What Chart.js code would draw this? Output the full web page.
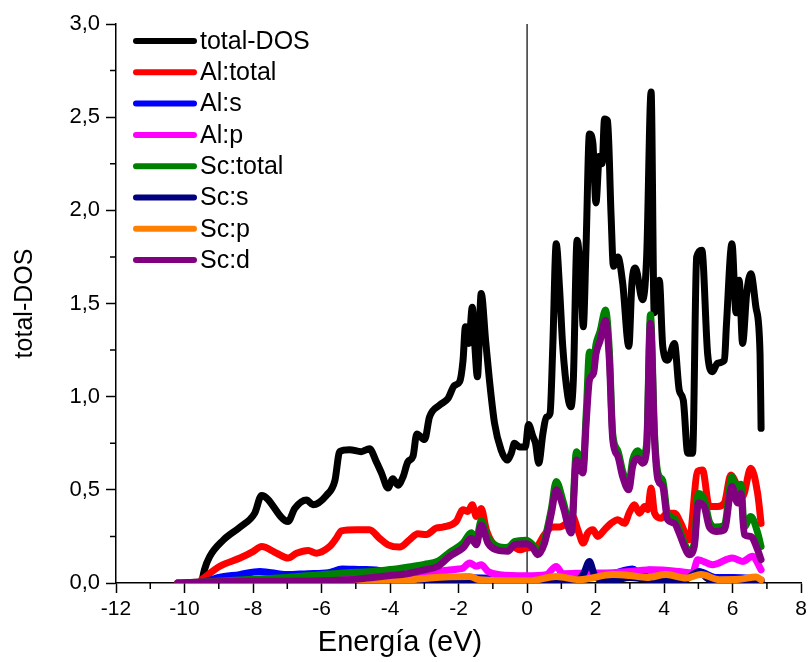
<!DOCTYPE html>
<html lang="es">
<head>
  <meta charset="UTF-8">
  <title>total-DOS</title>
  <script src="https://cdn.jsdelivr.net/npm/chart.js"></script>
  <style>
    html, body { margin: 0; padding: 0; background: #fff; }
    #wrap { width: 811px; height: 662px; position: relative; }
  </style>
</head>
<body>
  <div id="wrap"><canvas id="dosChart"></canvas></div>

  <script>
    // legend names and colours, in plot order
    const seriesNames = ['total-DOS', 'Al:total', 'Al:s', 'Al:p', 'Sc:total', 'Sc:s', 'Sc:p', 'Sc:d'];
    const seriesColors = ['#000000', '#ff0000', '#0000ff', '#ff00ff', '#008000', '#000080', '#ff8000', '#800080'];
    const yTickLabels = ['0,0', '0,5', '1,0', '1,5', '2,0', '2,5', '3,0'];

    // [energy (eV), DOS]
    const totalDOS = [[-9.5,0],[-9.42,0.07],[-9.27,0.14],[-8.87,0.23],[-8.38,0.30],[-7.95,0.375],[-7.75,0.47],[-6.98,0.33],[-6.78,0.40],[-6.44,0.445],[-6.25,0.42],[-5.86,0.47],[-5.61,0.55],[-5.47,0.705],[-5.18,0.715],[-4.84,0.705],[-4.60,0.72],[-4.40,0.65],[-4.25,0.59],[-4.06,0.51],[-3.92,0.56],[-3.77,0.525],[-3.62,0.57],[-3.48,0.65],[-3.33,0.68],[-3.22,0.80],[-2.99,0.77],[-2.85,0.89],[-2.55,0.955],[-2.31,0.99],[-2.12,1.06],[-1.97,1.08],[-1.87,1.195],[-1.80,1.375],[-1.70,1.286],[-1.60,1.48],[-1.53,1.286],[-1.45,1.107],[-1.34,1.554],[-1.21,1.30],[-1.10,1.09],[-0.95,0.857],[-0.76,0.714],[-0.59,0.66],[-0.46,0.697],[-0.37,0.75],[-0.22,0.73],[-0.05,0.73],[0.04,0.85],[0.17,0.786],[0.245,0.75],[0.34,0.643],[0.46,0.80],[0.56,0.89],[0.67,0.91],[0.75,1.27],[0.85,1.82],[0.945,1.59],[1.04,1.27],[1.19,1.0],[1.28,0.946],[1.35,1.09],[1.46,1.84],[1.58,1.59],[1.64,1.375],[1.72,1.80],[1.82,2.41],[1.92,2.36],[2.01,2.04],[2.11,2.29],[2.19,2.25],[2.26,2.49],[2.35,2.48],[2.45,1.98],[2.52,1.70],[2.65,1.75],[2.79,1.61],[2.97,1.27],[3.06,1.61],[3.16,1.69],[3.37,1.52],[3.49,1.75],[3.62,2.635],[3.71,1.45],[3.86,1.625],[3.96,1.27],[4.10,1.196],[4.30,1.286],[4.44,1.036],[4.56,0.98],[4.69,0.697],[4.83,0.697],[4.95,1.75],[5.10,1.786],[5.27,1.23],[5.41,1.134],[5.56,1.18],[5.76,1.196],[5.82,1.39],[5.98,1.82],[6.10,1.45],[6.19,1.625],[6.29,1.286],[6.41,1.554],[6.53,1.66],[6.68,1.48],[6.80,1.23],[6.83,0.83]];

    const alTotal = [[-9.5,0.018],[-8.97,0.09],[-8.38,0.134],[-7.99,0.17],[-7.75,0.196],[-7.31,0.16],[-6.98,0.134],[-6.73,0.16],[-6.39,0.175],[-6.15,0.16],[-5.76,0.196],[-5.57,0.24],[-5.42,0.28],[-4.98,0.286],[-4.6,0.286],[-4.31,0.24],[-4.06,0.205],[-3.72,0.193],[-3.43,0.232],[-3.19,0.264],[-2.94,0.26],[-2.65,0.295],[-2.46,0.30],[-2.07,0.33],[-1.87,0.393],[-1.73,0.384],[-1.6,0.42],[-1.48,0.357],[-1.34,0.40],[-1.19,0.286],[-1.0,0.214],[-0.71,0.188],[-0.42,0.196],[-0.22,0.178],[-0.03,0.188],[0.27,0.196],[0.51,0.26],[0.75,0.30],[0.95,0.30],[1.14,0.32],[1.33,0.357],[1.48,0.286],[1.64,0.214],[1.77,0.268],[1.92,0.286],[2.06,0.25],[2.26,0.286],[2.45,0.32],[2.65,0.34],[2.84,0.32],[2.99,0.38],[3.13,0.42],[3.28,0.375],[3.43,0.41],[3.52,0.393],[3.62,0.51],[3.72,0.375],[3.91,0.348],[4.10,0.375],[4.30,0.375],[4.49,0.32],[4.73,0.232],[4.98,0.60],[5.12,0.607],[5.32,0.41],[5.56,0.41],[5.76,0.43],[5.95,0.58],[6.10,0.536],[6.29,0.464],[6.53,0.616],[6.73,0.48],[6.83,0.32]];

    const alS = [[-9.5,0],[-9,0.03],[-8.4,0.045],[-7.8,0.062],[-7.0,0.045],[-6.4,0.05],[-5.8,0.055],[-5.4,0.075],[-4.8,0.072],[-4.4,0.07],[-4.0,0.05],[-3.0,0.035],[-2.0,0.03],[-1.0,0.025],[0,0.02],[0.8,0.025],[1.5,0.03],[2.0,0.035],[2.5,0.05],[3.08,0.075],[3.3,0.05],[3.57,0.07],[4.0,0.05],[4.5,0.04],[5.03,0.06],[5.5,0.03],[6.0,0.03],[6.5,0.025],[6.83,0.015]];

    const alP = [[-9.5,0],[-8,0.01],[-6,0.02],[-4,0.035],[-3,0.05],[-2.5,0.065],[-2,0.075],[-1.87,0.08],[-1.68,0.107],[-1.48,0.09],[-1.34,0.098],[-1.14,0.062],[-0.8,0.045],[-0.03,0.039],[0.56,0.045],[0.85,0.089],[1.04,0.05],[1.82,0.054],[2.31,0.054],[2.99,0.062],[3.67,0.071],[4.44,0.062],[4.83,0.054],[4.98,0.125],[5.41,0.098],[5.99,0.134],[6.29,0.116],[6.58,0.143],[6.83,0.071]];

    const scTotal = [[-10.2,0],[-9.5,0.006],[-8,0.02],[-7,0.03],[-6,0.045],[-5,0.058],[-4.5,0.062],[-4,0.072],[-3.5,0.085],[-3,0.10],[-2.6,0.118],[-2.26,0.165],[-1.87,0.215],[-1.63,0.27],[-1.48,0.235],[-1.34,0.335],[-1.14,0.24],[-0.9,0.20],[-0.56,0.19],[-0.37,0.222],[-0.03,0.23],[0.17,0.205],[0.31,0.168],[0.51,0.235],[0.71,0.40],[0.85,0.545],[1.05,0.44],[1.29,0.29],[1.44,0.705],[1.63,0.625],[1.73,0.93],[1.82,1.24],[1.94,1.18],[2.01,1.28],[2.13,1.35],[2.29,1.465],[2.4,1.25],[2.5,0.80],[2.65,0.71],[2.79,0.60],[2.97,0.53],[3.08,0.66],[3.23,0.71],[3.37,0.68],[3.49,0.75],[3.6,1.44],[3.72,0.80],[3.82,0.59],[3.96,0.55],[4.1,0.37],[4.3,0.345],[4.44,0.29],[4.59,0.215],[4.73,0.17],[4.88,0.215],[5.0,0.48],[5.17,0.45],[5.32,0.33],[5.52,0.30],[5.76,0.31],[5.98,0.57],[6.14,0.48],[6.24,0.53],[6.34,0.30],[6.53,0.357],[6.73,0.27],[6.83,0.196]];

    const scS = [[-10.2,0],[-9.5,0.003],[-5,0.005],[-2,0.005],[-1,0.008],[0,0.01],[1.0,0.01],[1.5,0.02],[1.65,0.05],[1.82,0.115],[1.95,0.05],[2.1,0.02],[2.5,0.015],[3.0,0.03],[3.5,0.02],[4.0,0.015],[4.5,0.01],[5.03,0.06],[5.3,0.02],[6.0,0.01],[6.5,0.015],[6.83,0.01]];

    const scP = [[-10.2,0],[-8,0.002],[-6,0.003],[-5,0.003],[-4.6,0.005],[-3.5,0.015],[-2.85,0.027],[-1.68,0.035],[-1.39,0.018],[0.07,0.012],[0.85,0.035],[1.53,0.018],[2.5,0.045],[2.99,0.04],[3.5,0.03],[4.06,0.045],[4.64,0.027],[5.08,0.045],[5.61,0.018],[6.2,0.02],[6.68,0.032],[6.83,0.018]];

    const scD = [[-10.2,0],[-9.5,0.005],[-8,0.01],[-7,0.01],[-6,0.012],[-5,0.02],[-4.5,0.03],[-4,0.04],[-3.5,0.05],[-3,0.07],[-2.6,0.09],[-2.26,0.143],[-1.87,0.188],[-1.63,0.24],[-1.48,0.205],[-1.34,0.31],[-1.14,0.214],[-0.9,0.178],[-0.56,0.17],[-0.37,0.205],[-0.03,0.21],[0.17,0.188],[0.31,0.152],[0.51,0.214],[0.71,0.375],[0.85,0.50],[1.05,0.41],[1.29,0.268],[1.44,0.66],[1.63,0.59],[1.73,0.875],[1.82,1.09],[1.94,1.125],[2.01,1.23],[2.13,1.30],[2.29,1.41],[2.4,1.2],[2.5,0.77],[2.65,0.68],[2.79,0.57],[2.97,0.50],[3.08,0.625],[3.23,0.67],[3.37,0.643],[3.49,0.714],[3.6,1.393],[3.72,0.77],[3.82,0.554],[3.96,0.518],[4.1,0.34],[4.3,0.32],[4.44,0.268],[4.59,0.196],[4.73,0.152],[4.88,0.196],[5.0,0.43],[5.17,0.41],[5.32,0.30],[5.52,0.277],[5.76,0.286],[5.98,0.518],[6.14,0.43],[6.24,0.48],[6.34,0.26],[6.53,0.25],[6.73,0.178],[6.83,0.125]];

    // Fermi level marker
    const fermiLine = [[0, 0], [0, 3]];

    const seriesData = [totalDOS, alTotal, alS, alP, scTotal, scS, scP, scD];
    const FONT = '"Liberation Sans", Arial, sans-serif';

    // legend drawn by hand: line sample + name, top left of plot
    const lineLegend = {
      id: 'lineLegend',
      afterDraw(chart) {
        const ctx = chart.ctx;
        ctx.save();
        ctx.font = '25px ' + FONT;
        ctx.textBaseline = 'middle';
        ctx.lineCap = 'round';
        ctx.lineWidth = 6;
        seriesNames.forEach((name, i) => {
          const y = 41 + i * 31.3;
          ctx.strokeStyle = seriesColors[i];
          ctx.beginPath();
          ctx.moveTo(136, y);
          ctx.lineTo(194, y);
          ctx.stroke();
          ctx.fillStyle = '#000';
          ctx.fillText(name, 200, y + 1);
        });
        // x title sits centred on the canvas, not on the plot area
        ctx.font = '29px ' + FONT;
        ctx.textAlign = 'center';
        ctx.fillText('Energía (eV)', 400, 643);
        ctx.restore();
      }
    };

    // short minor ticks between the labelled ones
    const minorTicks = {
      id: 'minorTicks',
      afterDraw(chart) {
        const { ctx, scales: { x, y } } = chart;
        ctx.save();
        ctx.strokeStyle = '#000';
        ctx.lineWidth = 1.5;
        ctx.beginPath();
        for (let v = -11; v <= 7; v += 2) {
          const px = x.getPixelForValue(v);
          ctx.moveTo(px, y.bottom);
          ctx.lineTo(px, y.bottom + 6);
        }
        for (let v = 0.25; v < 3; v += 0.5) {
          const py = y.getPixelForValue(v);
          ctx.moveTo(x.left, py);
          ctx.lineTo(x.left - 6, py);
        }
        ctx.stroke();
        ctx.restore();
      }
    };

    const datasets = seriesData.map((d, i) => ({
      label: seriesNames[i],
      data: d,
      borderColor: seriesColors[i],
      backgroundColor: seriesColors[i],
      borderWidth: 7,
      borderJoinStyle: 'round',
      borderCapStyle: 'round',
      pointRadius: 0,
      cubicInterpolationMode: 'monotone',
      order: seriesNames.length - 1 - i // later series on top, like the original
    }));
    datasets.push({
      label: '',
      data: fermiLine,
      borderColor: '#333',
      borderWidth: 1.5,
      pointRadius: 0,
      order: 20
    });

    new Chart(document.getElementById('dosChart'), {
      type: 'line',
      data: { datasets },
      options: {
        responsive: true,
        maintainAspectRatio: false,
        animation: false,
        layout: { padding: { top: 24, right: 9, left: 0, bottom: 0 } },
        plugins: { legend: { display: false }, tooltip: { enabled: false } },
        scales: {
          x: {
            type: 'linear',
            min: -12,
            max: 8,
            afterFit: (s) => { s.height = 79; },
            ticks: {
              stepSize: 2,
              padding: 4,
              color: '#000',
              font: { family: FONT, size: 21 },
              callback: (v) => String(v)
            },
            grid: { drawOnChartArea: false, drawTicks: true, tickLength: 10, tickColor: '#000', tickWidth: 1.5 },
            border: { display: true, color: '#000', width: 1.5 }
          },
          y: {
            min: 0,
            max: 3,
            afterFit: (s) => { s.width = 116; },
            ticks: {
              stepSize: 0.5,
              padding: 6,
              color: '#000',
              font: { family: FONT, size: 22 },
              callback: (v, i) => yTickLabels[i]
            },
            grid: { drawOnChartArea: false, drawTicks: true, tickLength: 10, tickColor: '#000', tickWidth: 1.5 },
            border: { display: true, color: '#000', width: 1.5 },
            title: {
              display: true,
              text: 'total-DOS',
              color: '#000',
              font: { family: FONT, size: 25 },
              padding: { top: 10, bottom: 0 }
            }
          }
        }
      },
      plugins: [lineLegend, minorTicks]
    });
  </script>
</body>
</html>
